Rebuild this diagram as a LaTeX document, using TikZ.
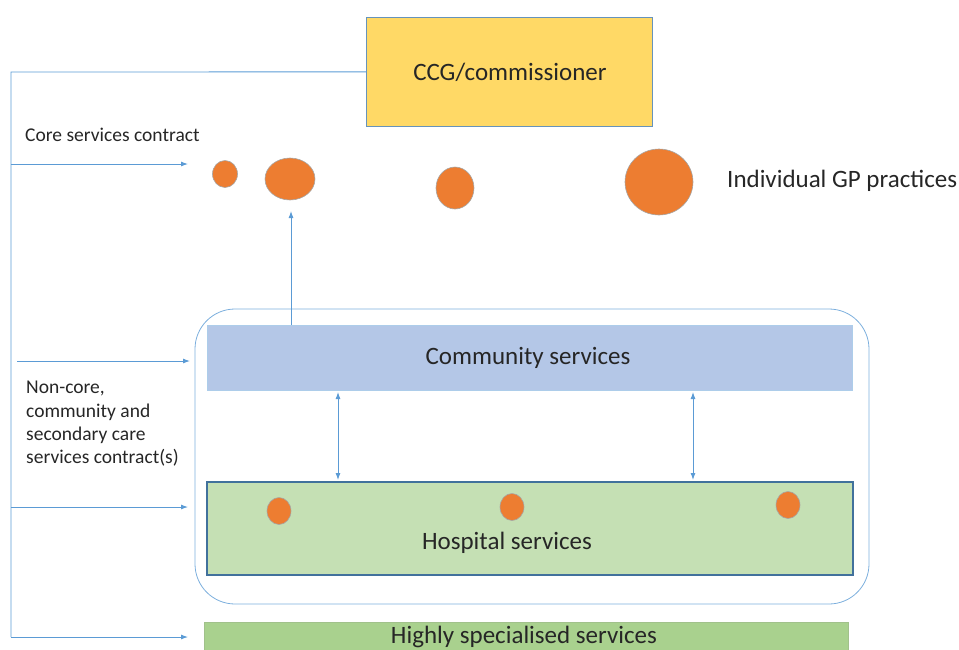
\documentclass[tikz,border=0pt]{standalone}
\usepackage{fontspec}
\setmainfont{Carlito}
\usetikzlibrary{arrows.meta,shapes.geometric}
\definecolor{lineblue}{HTML}{5B9BD5}
\definecolor{ccgyellow}{HTML}{FFD966}
\definecolor{commblue}{HTML}{B4C7E7}
\definecolor{hospgreen}{HTML}{C5E0B4}
\definecolor{specgreen}{HTML}{A9D18E}
\definecolor{dotorange}{HTML}{ED7D31}
\definecolor{darkborder}{HTML}{41719C}
\definecolor{textgray}{HTML}{262626}
\tikzset{
  conn/.style={draw=lineblue, line width=0.9pt},
  arr/.style={conn, -{Latex[length=7pt,width=5pt]}},
  darr/.style={conn, {Latex[length=7pt,width=5pt]}-{Latex[length=7pt,width=5pt]}},
  dot/.style={ellipse, draw=gray!70, fill=dotorange, line width=0.6pt, inner sep=0pt},
  lbl/.style={text=textgray, inner sep=0pt},
  big/.style={lbl, font=\fontsize{25}{30}\selectfont},
  small/.style={lbl, font=\fontsize{19.5}{23.3}\selectfont},
}
\begin{document}
\begin{tikzpicture}[x=1pt,y=-1pt]
\useasboundingbox (0,0) rectangle (959,649);
% CCG box
\node[draw=lineblue!70!gray, fill=ccgyellow, minimum width=286pt, minimum height=109pt, anchor=north west, line width=0.8pt] (ccg) at (366,17) {};
\node[big] (ccgt) at (510,72) {CCG/commissioner};
% container
\draw[draw=lineblue!80, line width=0.8pt, rounded corners=40pt] (195,309) rectangle (869,604);
\node[draw=lineblue!50!white, fill=commblue, minimum width=645pt, minimum height=65pt, anchor=north west, line width=0.8pt] (comm) at (207,325) {};
\node[big] (commt) at (528,358) {Community services};
\node[draw=darkborder, fill=hospgreen, minimum width=646pt, minimum height=93pt, anchor=north west, line width=2pt] (hosp) at (206,481) {};
\node[big] (hospt) at (507,543) {Hospital services};
\node[draw=specgreen!80!gray, fill=specgreen, minimum width=644pt, minimum height=40pt, anchor=north west, line width=0.8pt] (spec) at (204,622) {};
\node[big] (spect) at (524,637) {Highly specialised services};
% GP dots
\node[dot, minimum width=25pt, minimum height=27pt] (g1) at (225,174) {};
\node[dot, minimum width=50pt, minimum height=42pt] (g2) at (290,179) {};
\node[dot, minimum width=38pt, minimum height=42pt] (g3) at (455,188) {};
\node[dot, minimum width=68pt, minimum height=66pt] (g4) at (659,182) {};
\node[big, anchor=west] (gpt) at (727,181) {Individual GP practices};
% hospital dots
\node[dot, minimum width=24pt, minimum height=27pt] (h1) at (279,511) {};
\node[dot, minimum width=24pt, minimum height=27pt] (h2) at (512,507) {};
\node[dot, minimum width=24pt, minimum height=27pt] (h3) at (788,505) {};
% left labels
\node[small, anchor=west] (core) at (25,135) {Core services contract};
\node[small, anchor=north west, align=left] (noncore) at (26,381) {Non-core,\\community and\\secondary care\\services contract(s)};
% connectors
\coordinate (top) at (11,72);
\coordinate (a1s) at (11,164);
\coordinate (a1e) at (188,164);
\coordinate (a2s) at (17,361);
\coordinate (a2e) at (190,361);
\coordinate (a3s) at (11,507);
\coordinate (a3e) at (188,507);
\coordinate (a4s) at (11,637);
\coordinate (a4e) at (188,637);
\draw[conn] (ccg.west) -- (top) -- (a4s);
\draw[arr] (a1s) -- (a1e);
\draw[arr] (a2s) -- (a2e);
\draw[arr] (a3s) -- (a3e);
\draw[arr] (a4s) -- (a4e);
\draw[arr] (comm.north west -| 291,0) -- (291,211);
\draw[darr] (338,392) -- (338,480);
\draw[darr] (693,392) -- (693,480);
\end{tikzpicture}
\end{document}
